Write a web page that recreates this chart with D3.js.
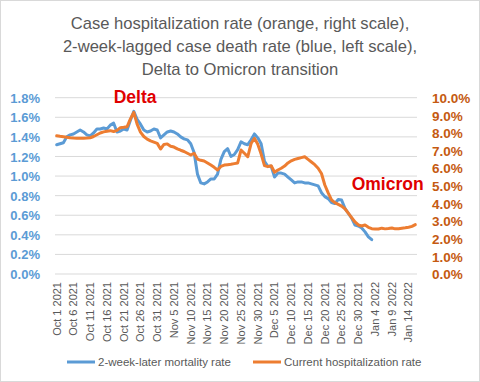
<!DOCTYPE html>
<html><head><meta charset="utf-8">
<script src="https://cdn.jsdelivr.net/npm/d3@7"></script>
<style>
html,body{margin:0;padding:0;background:#fff;}
svg{display:block;font-family:"Liberation Sans",Arial,sans-serif;}
</style></head>
<body>
<svg id="chart" width="480" height="382"></svg>
<script>
// ---- data ----
const startDate = "2021-10-01";
const endDate = "2022-01-16";
const titleLines = [
  "Case hospitalization rate (orange, right scale),",
  "2-week-lagged case death rate (blue, left scale),",
  "Delta to Omicron transition"
];
const leftTicks = [0,0.2,0.4,0.6,0.8,1.0,1.2,1.4,1.6,1.8];
const rightTicks = [0,1,2,3,4,5,6,7,8,9,10];
// 2-week-later mortality rate (%), daily from Oct 1 2021 (left scale)
const mortality = [1.32,1.33,1.34,1.40,1.42,1.43,1.45,1.47,1.45,1.42,
  1.41,1.44,1.48,1.48,1.49,1.48,1.52,1.54,1.45,1.46,
  1.48,1.47,1.57,1.66,1.58,1.53,1.47,1.45,1.46,1.48,
  1.47,1.39,1.42,1.45,1.46,1.45,1.43,1.40,1.38,1.37,
  1.33,1.24,1.02,0.93,0.92,0.94,0.97,0.97,1.02,1.17,
  1.25,1.28,1.20,1.22,1.27,1.35,1.33,1.32,1.37,1.43,
  1.39,1.33,1.15,1.10,1.10,0.99,1.03,1.03,1.02,0.99,
  0.96,0.93,0.94,0.94,0.93,0.93,0.92,0.91,0.90,0.83,
  0.79,0.77,0.73,0.72,0.76,0.755,0.67,0.62,0.57,0.50,
  0.49,0.47,0.43,0.38,0.35];
// Current hospitalization rate (%), daily from Oct 1 2021 (right scale)
const hospitalization = [7.84,7.81,7.79,7.76,7.73,7.71,7.70,7.70,7.70,7.71,
  7.73,7.80,7.90,8.00,8.06,8.10,8.13,8.08,8.15,8.30,
  8.32,8.35,8.80,9.17,8.50,8.05,7.80,7.65,7.55,7.48,
  7.41,7.09,7.35,7.38,7.25,7.20,7.10,7.02,6.95,6.85,
  6.75,6.85,6.52,6.45,6.41,6.30,6.18,6.05,5.90,6.10,
  6.18,6.20,6.22,6.26,6.30,7.03,6.85,6.65,7.40,7.70,
  7.36,6.80,6.15,6.09,6.14,5.77,5.90,6.00,6.12,6.30,
  6.42,6.50,6.55,6.60,6.65,6.50,6.35,6.20,6.00,5.70,
  5.05,4.60,4.20,4.05,3.95,3.85,3.70,3.45,3.20,2.95,
  2.78,2.72,2.78,2.65,2.57,2.55,2.55,2.60,2.56,2.58,
  2.61,2.56,2.57,2.60,2.62,2.65,2.70,2.80];
const seriesNames = ["2-week-later mortality rate","Current hospitalization rate"];
const annotations = [{text:"Delta", day:"2021-10-18", value:9.7},{text:"Omicron", day:"2021-12-28", value:4.75}];

// ---- chart ----
const W = 480, H = 382;
const svg = d3.select("#chart");
const blue = "#5B9BD5", orange = "#ED7D31", grey = "#595959";

svg.append("rect").attr("x",0.5).attr("y",0.5).attr("width",W-1).attr("height",H-1)
  .attr("fill","#fff").attr("stroke","#D9D9D9");

const parse = d3.timeParse("%Y-%m-%d");
const days = d3.timeDay.range(parse(startDate), d3.timeDay.offset(parse(endDate),1));
const fmt = d3.timeFormat("%b %-d %Y");
const cats = days.map(fmt);

const plot = {left:55, right:417, top:97.7, bottom:274};
const x = d3.scaleBand().domain(cats).range([plot.left, plot.right]).padding(0);
const cx = c => x(c) + x.bandwidth()/2;
const yL = d3.scaleLinear().domain([0, 1.8]).range([plot.bottom, plot.top]);
const yR = d3.scaleLinear().domain([0, 10]).range([plot.bottom, plot.top]);

// title
svg.append("g").selectAll("text").data(titleLines).join("text")
  .attr("x", 240).attr("y",(d,i)=>29+i*23)
  .attr("text-anchor","middle").attr("fill",grey)
  .style("font-size","16.6px").text(d=>d);

// gridlines
svg.append("g").selectAll("line").data(leftTicks).join("line")
  .attr("x1",plot.left).attr("x2",plot.right)
  .attr("y1",d=>yL(d)).attr("y2",d=>yL(d))
  .attr("stroke","#D9D9D9").attr("stroke-width",1);

// left axis
const axL = d3.axisLeft(yL).tickValues(leftTicks).tickFormat(d=>d.toFixed(1)+"%").tickSize(0).tickPadding(0);
const gL = svg.append("g").attr("transform",`translate(40,0)`).call(axL);
gL.select(".domain").remove();
gL.selectAll("text").attr("fill",blue).style("font-size","13px").style("font-weight","bold")
  .style("font-family","Liberation Sans, Arial, sans-serif").attr("dy","0.35em");

// right axis
const axR = d3.axisRight(yR).tickValues(rightTicks).tickFormat(d=>d.toFixed(1)+"%").tickSize(0).tickPadding(0);
const gR = svg.append("g").attr("transform",`translate(432,0)`).call(axR);
gR.select(".domain").remove();
gR.selectAll("text").attr("fill","#C55A11").style("font-size","13.5px").style("font-weight","bold")
  .style("font-family","Liberation Sans, Arial, sans-serif").attr("dy","0.35em");

// x axis labels
const xLabels = cats.filter((c,i)=>i%5===0 && i<=105);
const axX = d3.axisBottom(x).tickValues(xLabels).tickSize(0).tickPadding(0);
const gX = svg.append("g").attr("transform",`translate(0,${plot.bottom})`).call(axX);
gX.select(".domain").remove();
gX.selectAll(".tick text")
  .attr("transform","rotate(-90)")
  .attr("x",-8).attr("y",0).attr("dy","0.35em")
  .attr("text-anchor","end")
  .attr("fill",grey).style("font-size","11px")
  .style("font-family","Liberation Sans, Arial, sans-serif");

// lines
const lineL = d3.line().x((d,i)=>cx(cats[i])).y(d=>yL(d));
const lineR = d3.line().x((d,i)=>cx(cats[i])).y(d=>yR(d));
svg.append("path").datum(mortality).attr("d",lineL)
  .attr("fill","none").attr("stroke",blue).attr("stroke-width",3).attr("stroke-linejoin","round").attr("stroke-linecap","round");
svg.append("path").datum(hospitalization).attr("d",lineR)
  .attr("fill","none").attr("stroke",orange).attr("stroke-width",3).attr("stroke-linejoin","round").attr("stroke-linecap","round");

// annotations
svg.append("g").selectAll("text").data(annotations).join("text")
  .attr("x",d=>cx(fmt(parse(d.day)))).attr("y",d=>yR(d.value))
  .attr("fill","#E00000").style("font-size","17.5px").style("font-weight","bold")
  .text(d=>d.text);

// legend
const leg = svg.append("g");
const legItems = [{name:seriesNames[0],color:blue,x:67},{name:seriesNames[1],color:orange,x:253}];
legItems.forEach(it=>{
  leg.append("line").attr("x1",it.x).attr("x2",it.x+28).attr("y1",362).attr("y2",362)
    .attr("stroke",it.color).attr("stroke-width",3);
  leg.append("text").attr("x",it.x+31).attr("y",362).attr("dy","0.35em")
    .attr("fill",grey).style("font-size","11.5px").text(it.name);
});
</script>
</body></html>
